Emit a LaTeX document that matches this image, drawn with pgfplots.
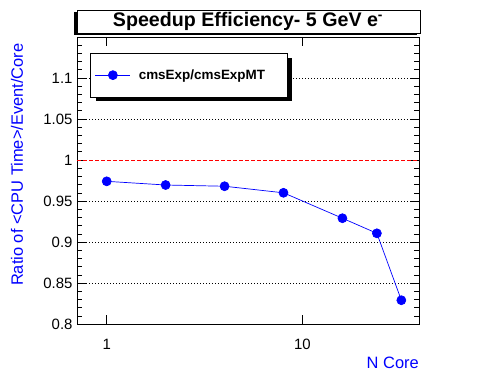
\documentclass[border=0pt]{standalone}
\usepackage{pgfplots}
\pgfplotsset{compat=1.18}
\usepackage{fontspec}
\setmainfont{Liberation Sans}
\definecolor{rootblue}{RGB}{0,0,255}
\begin{document}
\begin{tikzpicture}[x=1bp,y=1bp]
\useasboundingbox (0,0) rectangle (496,372);
% title box with shadow
\fill[black] (74,337) rectangle (417,360);
\draw[black, line width=0.8bp, fill=white] (77,339) rectangle (420,362);
\node[font=\bfseries\fontsize{19.7}{19.7}\selectfont] at (248,350.5) {Speedup Efficiency- 5 GeV e\textsuperscript{-}};
\begin{axis}[
  at={(77bp,48bp)}, anchor=south west,
  scale only axis, width=342bp, height=287bp,
  xmode=log, log basis x=10,
  xmin=0.705, xmax=39.4, ymin=0.8, ymax=1.15,
  xtick={1,10}, xticklabels={1,10},
  ytick={0.8,0.85,0.9,0.95,1,1.05,1.1},
  yticklabels={0.8,0.85,0.9,0.95,1,1.05,1.1},
  minor ytick={0.81,0.82,0.83,0.84,0.86,0.87,0.88,0.89,0.91,0.92,0.93,0.94,0.96,0.97,0.98,0.99,1.01,1.02,1.03,1.04,1.06,1.07,1.08,1.09,1.11,1.12,1.13,1.14},
  tick align=inside,
  major tick length=9bp, minor tick length=5bp,
  every tick/.style={black, line width=0.6bp},
  axis line style={line width=0.8bp},
  tick label style={font=\fontsize{15}{15}\selectfont},
  /pgf/number format/assume math mode=true,
  xticklabel style={yshift=-11.5bp},
  yticklabel style={xshift=-1bp},
  clip=false,
  legend style={draw=none, fill=none, at={(axis description cs:0.052,0.867)}, anchor=west,
    font=\bfseries\fontsize{13.5}{13.5}\selectfont, inner sep=0pt},
  legend image code/.code={
    \draw[rootblue, line width=0.8bp] (0bp,0bp) -- (35bp,0bp);
    \fill[rootblue] (17.5bp,0bp) circle (4.5bp);
  },
]
% grid lines
\addplot[black, line width=0.6bp, dash pattern=on 1bp off 2bp, forget plot] coordinates {(0.705,0.85) (39.4,0.85)};
\addplot[black, line width=0.6bp, dash pattern=on 1bp off 2bp, forget plot] coordinates {(0.705,0.9) (39.4,0.9)};
\addplot[black, line width=0.6bp, dash pattern=on 1bp off 2bp, forget plot] coordinates {(0.705,0.95) (39.4,0.95)};
\addplot[black, line width=0.6bp, dash pattern=on 1bp off 2bp, forget plot] coordinates {(0.705,1.05) (39.4,1.05)};
\addplot[black, line width=0.6bp, dash pattern=on 1bp off 2bp, forget plot] coordinates {(0.705,1.1) (39.4,1.1)};
\addplot[red, line width=0.6bp, dash pattern=on 4bp off 2bp, forget plot] coordinates {(0.705,1) (39.4,1)};
% data
\addplot[rootblue, line width=0.7bp, mark=*, mark size=4.5bp, mark options={fill=rootblue, draw=rootblue}]
  coordinates {(1,0.974) (2,0.9695) (4,0.968) (8,0.960) (16,0.929) (24,0.9106) (32,0.829)};
\addlegendentry{\hspace{6bp}cmsExp/cmsExpMT}
% legend box with shadow
\fill[black] (axis description cs:0.0556,0.777) rectangle (axis description cs:0.6287,0.927);
\draw[black, line width=0.8bp, fill=white] (axis description cs:0.038,0.791) rectangle (axis description cs:0.614,0.944);
\end{axis}
\node[rotate=90, anchor=east, text=rootblue, font=\fontsize{16.5}{16.5}\selectfont] at (17,332) {Ratio of <CPU Time>/Event/Core};
\node[anchor=east, text=rootblue, font=\fontsize{16.5}{16.5}\selectfont, inner sep=0pt] at (419,9.5) {N Core};
\end{tikzpicture}
\end{document}
